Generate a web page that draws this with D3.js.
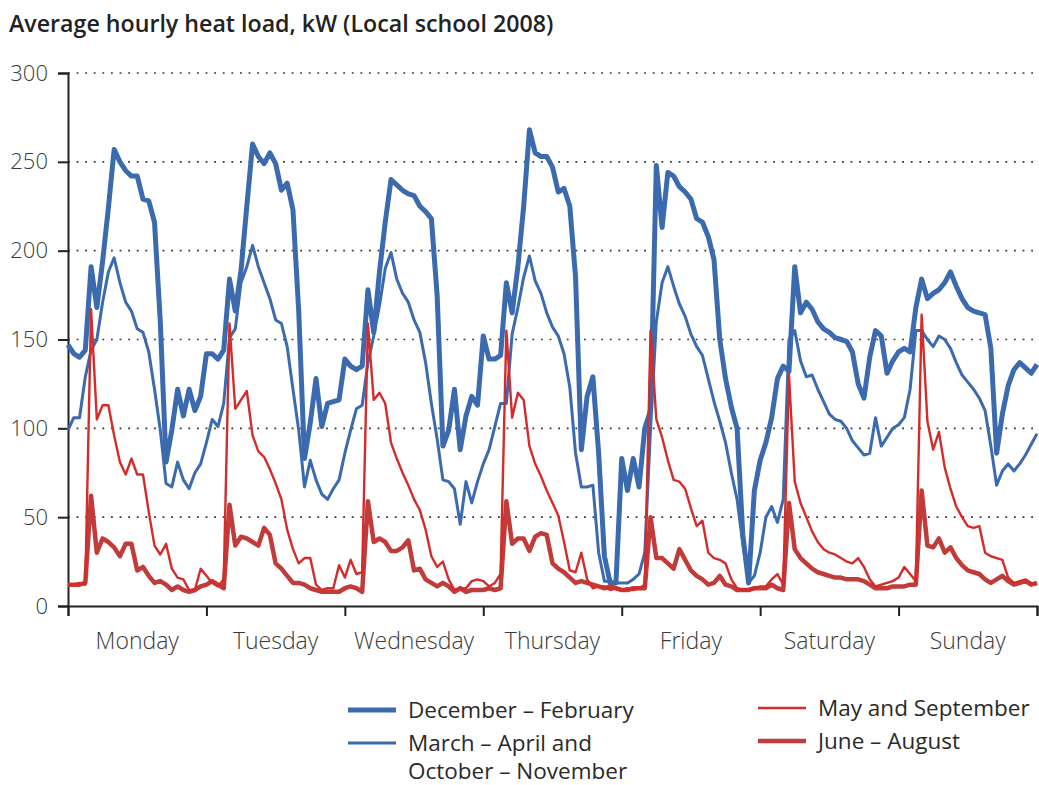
<!DOCTYPE html>
<html>
<head>
<meta charset="utf-8">
<script src="https://cdn.jsdelivr.net/npm/d3@7"></script>
<style>
  body { margin: 0; background: #fff; }
  svg text { font-family: "Open Sans", "Noto Sans", sans-serif; }
</style>
</head>
<body>
<svg id="chart" width="1039" height="785"></svg>
<script>
// Weekday labels along the x axis (24 hourly readings per day)
const days = ["Monday", "Tuesday", "Wednesday", "Thursday", "Friday", "Saturday", "Sunday"];
const yTicks = [0, 50, 100, 150, 200, 250, 300];

// Average hourly heat load in kW, hour 0 (Monday 00:00) to hour 168
const decFeb = [
  147,142,140,144,191,168,194,224,257,250,245,242,242,229,228,216,160,81,99,122,107,122,110,118,
  142,142,139,144,184,166,189,225,260,253,249,255,249,234,238,223,166,83,103,128,101,114,115,116,
  139,135,133,135,178,154,188,216,240,237,234,232,231,225,222,218,175,90,99,122,88,107,118,113,
  152,139,139,141,182,165,191,225,268,255,253,253,247,233,235,225,185,88,118,129,86,28,13,13,
  83,65,83,67,100,110,248,213,244,242,236,233,229,218,216,208,195,150,128,112,100,40,13,65,
  82,92,106,128,135,132,191,165,171,167,160,156,154,151,150,149,143,125,117,140,155,152,131,138,
  143,145,143,168,184,173,176,178,182,188,180,173,168,166,165,164,145,86,108,124,133,137,134,131,136
];
const marAprOctNov = [
  99,106,106,129,144,150,171,188,196,182,171,166,156,154,143,122,99,69,67,81,71,66,75,80,
  92,105,101,114,151,156,182,191,203,191,182,173,161,159,146,122,99,67,82,71,63,60,66,71,
  86,99,111,113,137,152,169,190,199,184,176,171,161,154,137,114,94,71,70,66,46,70,58,70,
  80,88,101,114,114,153,168,185,197,183,176,165,157,152,142,123,86,67,67,68,30,14,14,13,
  13,13,15,18,30,100,160,182,191,180,170,163,153,146,141,128,115,104,92,75,60,35,13,17,
  30,50,56,47,60,150,155,138,129,130,122,115,108,105,104,100,93,89,85,86,106,90,95,100,
  102,106,122,155,155,150,146,152,150,145,137,130,126,122,117,110,90,68,76,80,76,80,85,91,97
];
const maySep = [
  12,12,13,12,167,105,113,113,96,81,74,83,74,74,53,34,29,35,21,16,15,9,9,21,
  17,13,11,15,159,111,116,121,96,87,84,77,69,60,43,32,24,27,27,12,9,10,10,23,
  16,26,18,19,159,116,120,114,92,83,75,68,60,54,43,28,22,25,15,9,10,10,14,15,
  14,11,13,18,155,106,120,116,90,80,73,65,58,51,36,20,19,30,15,10,11,11,9,10,
  9,10,9,10,12,155,105,95,82,71,70,66,55,45,48,30,27,26,24,15,10,9,9,10,
  11,11,15,18,12,130,70,58,50,42,36,32,30,29,27,25,24,27,22,15,11,12,13,14,
  16,22,18,14,164,104,88,98,78,66,56,50,45,44,45,30,28,27,26,16,13,14,15,13,12
];
const junAug = [
  12,12,12,13,62,30,38,36,33,28,35,35,20,22,17,13,14,12,9,11,9,8,9,11,
  12,14,12,10,57,34,39,38,36,34,44,40,24,21,17,13,13,12,10,9,8,8,8,8,
  10,11,10,8,59,36,38,36,31,31,33,37,20,21,15,13,11,13,11,8,10,8,9,9,
  9,10,9,10,59,35,38,38,31,39,41,40,24,21,19,16,13,14,13,12,11,10,11,10,
  9,9,10,10,10,50,27,27,24,21,32,26,20,17,15,12,13,17,12,11,9,9,9,10,
  10,10,12,10,9,58,32,27,24,21,19,18,17,16,16,15,15,15,14,12,10,10,10,11,
  11,11,12,12,65,34,33,38,30,33,27,23,20,19,18,15,13,15,17,14,12,13,14,12,13
];

const title = "Average hourly heat load, kW (Local school 2008)";
const legendLabels = ["December – February", ["March – April and", "October – November"], "May and September", "June – August"];

const svg = d3.select("#chart");
const plotLeft = 68, plotRight = 1037, plotTop = 73, plotBottom = 606;

const x = d3.scaleLinear().domain([0, 168]).range([plotLeft, plotRight]);
const y = d3.scaleLinear().domain([0, 300]).range([plotBottom, plotTop]);
const dayBand = d3.scaleBand().domain(days).range([plotLeft, plotRight]);

// Title
svg.append("text")
  .attr("x", 9).attr("y", 32)
  .attr("font-size", 23.2).attr("font-weight", 600).attr("fill", "#222")
  .text(title);

// Dotted horizontal grid
svg.append("g")
  .selectAll("line")
  .data(yTicks.filter(d => d > 0))
  .join("line")
  .attr("x1", plotLeft).attr("x2", plotRight)
  .attr("y1", d => y(d)).attr("y2", d => y(d))
  .attr("stroke", "#333").attr("stroke-width", 1.6)
  .attr("stroke-dasharray", "1.8,6.8");

// Y axis
const yAxis = svg.append("g")
  .attr("transform", `translate(${plotLeft},0)`)
  .call(d3.axisLeft(y).tickValues(yTicks).tickSize(10).tickPadding(10));
yAxis.select(".domain").attr("stroke", "#222").attr("stroke-width", 2);
yAxis.selectAll(".tick line").attr("stroke", "#222").attr("stroke-width", 2);
yAxis.selectAll(".tick text")
  .attr("font-size", 22).attr("font-weight", 300).attr("fill", "#3a3a3a")
  .attr("font-family", "'Open Sans', sans-serif");

// X axis: day boundary ticks
const xAxis = svg.append("g")
  .attr("transform", `translate(0,${plotBottom})`)
  .call(d3.axisBottom(x).tickValues(d3.range(0, 169, 24)).tickSize(10).tickFormat(""));
xAxis.select(".domain").attr("stroke", "#222").attr("stroke-width", 2);
xAxis.selectAll(".tick line").attr("stroke", "#222").attr("stroke-width", 2);

// Day names centred in each day
const dayAxis = svg.append("g")
  .attr("transform", `translate(0,${plotBottom})`)
  .call(d3.axisBottom(dayBand).tickSize(0).tickPadding(27));
dayAxis.select(".domain").remove();
dayAxis.selectAll(".tick text")
  .attr("font-size", 23).attr("font-weight", 300).attr("fill", "#3a3a3a")
  .attr("font-family", "'Open Sans', sans-serif");

// Series lines
const line = d3.line().x((d, i) => x(i)).y(d => y(d));
const blue = "#3b6aae", red = "#d42b2b", darkRed = "#c03c3a";
const series = [
  { values: decFeb, color: blue, width: 5 },
  { values: marAprOctNov, color: blue, width: 3 },
  { values: junAug, color: darkRed, width: 4.5 },
  { values: maySep, color: red, width: 2.4 }
];
svg.append("g")
  .selectAll("path")
  .data(series)
  .join("path")
  .attr("d", d => line(d.values))
  .attr("fill", "none")
  .attr("stroke", d => d.color)
  .attr("stroke-width", d => d.width)
  .attr("stroke-linejoin", "round");

// Legend
const legendItems = [
  { label: legendLabels[0], color: blue, width: 5, x: 348, y: 710 },
  { label: legendLabels[1], color: blue, width: 3, x: 348, y: 743 },
  { label: legendLabels[2], color: red, width: 2.6, x: 758, y: 708 },
  { label: legendLabels[3], color: darkRed, width: 4.5, x: 758, y: 741 }
];
const lg = svg.append("g").selectAll("g").data(legendItems).join("g")
  .attr("transform", d => `translate(${d.x},${d.y})`);
lg.append("line")
  .attr("x1", 0).attr("x2", 48).attr("y1", 0).attr("y2", 0)
  .attr("stroke", d => d.color).attr("stroke-width", d => d.width);
lg.append("text")
  .attr("x", 60).attr("y", 8)
  .attr("font-size", 22.5).attr("fill", "#2a2a2a")
  .each(function (d) {
    const lines = Array.isArray(d.label) ? d.label : [d.label];
    d3.select(this).selectAll("tspan").data(lines).join("tspan")
      .attr("x", 60).attr("dy", (t, i) => i === 0 ? 0 : 28)
      .text(t => t);
  });
</script>
</body>
</html>
